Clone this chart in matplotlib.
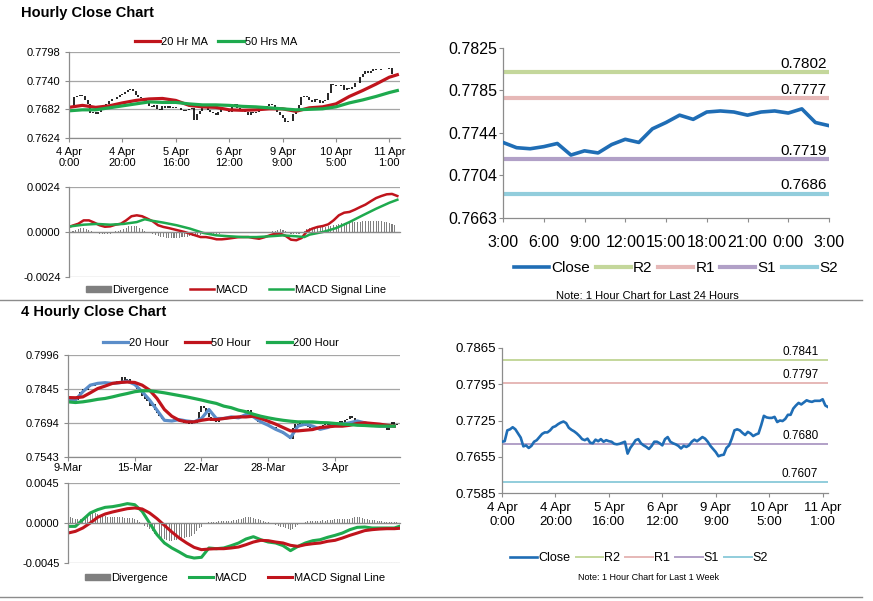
import numpy as np
import matplotlib
matplotlib.use('Agg')
import matplotlib.pyplot as plt
from matplotlib.patches import Patch
from matplotlib.lines import Line2D

plt.rcParams['font.family'] = ['Liberation Sans', 'DejaVu Sans']

W, H = 873, 601

# ---------------- data ----------------
# hourly close, 4 Apr 0:00 .. 11 Apr 2:00 (trading hours)
close_1h = [
    0.7684, 0.7685, 0.7706, 0.7708, 0.7712, 0.7708, 0.7700, 0.7692, 0.7675, 0.7677,
    0.7672, 0.7676, 0.7684, 0.7687, 0.7693, 0.7699, 0.7702, 0.7702, 0.7706, 0.7712,
    0.7714, 0.7718, 0.7721, 0.7723, 0.7720, 0.7711, 0.7707, 0.7704, 0.7700, 0.7695,
    0.7689, 0.7687, 0.7690, 0.7682, 0.7681, 0.7688, 0.7685, 0.7689, 0.7684, 0.7687,
    0.7685, 0.7684, 0.7680, 0.7679, 0.7680, 0.7682, 0.7684, 0.7661, 0.7672, 0.7679,
    0.7687, 0.7689, 0.7681, 0.7677, 0.7674, 0.7670, 0.7676, 0.7684, 0.7684, 0.7681,
    0.7677, 0.7689, 0.7693, 0.7684, 0.7681, 0.7679, 0.7676, 0.7671, 0.7676, 0.7674,
    0.7677, 0.7684, 0.7688, 0.7685, 0.7689, 0.7693, 0.7690, 0.7684, 0.7676, 0.7670,
    0.7664, 0.7656, 0.7658, 0.7659, 0.7672, 0.7677, 0.7690, 0.7706, 0.7708, 0.7706,
    0.7701, 0.7697, 0.7703, 0.7700, 0.7695, 0.7698, 0.7700, 0.7716, 0.7734, 0.7731,
    0.7730, 0.7730, 0.7732, 0.7722, 0.7725, 0.7724, 0.7728, 0.7736, 0.7736, 0.7748,
    0.7754, 0.7759, 0.7756, 0.7760, 0.7764, 0.7762, 0.7761, 0.7763, 0.7763, 0.7763,
    0.7766, 0.7754, 0.7751,
]
hr_tick_labels = ['4 Apr\n0:00', '4 Apr\n20:00', '5 Apr\n16:00', '6 Apr\n12:00',
                  '9 Apr\n9:00', '10 Apr\n5:00', '11 Apr\n1:00']

ma_1h_idx = [0, 5, 10, 15, 20, 25, 30, 35, 40, 45, 50, 55, 60, 65, 70, 75, 80,
             85, 90, 95, 100, 105, 110, 115, 120, 123]
ma20_1h = [0.7686, 0.7690, 0.7686, 0.7689, 0.7695, 0.7700, 0.7703, 0.7704, 0.7700,
           0.7690, 0.7687, 0.7686, 0.7681, 0.7680, 0.7681, 0.7683, 0.7683, 0.7678,
           0.7685, 0.7687, 0.7693, 0.7708, 0.7720, 0.7733, 0.7747, 0.7752]
ma50_1h = [0.7679, 0.7681, 0.7681, 0.7685, 0.7689, 0.7693, 0.7697, 0.7696, 0.7696,
           0.7693, 0.7691, 0.7691, 0.7690, 0.7688, 0.7687, 0.7685, 0.7683, 0.7681,
           0.7682, 0.7683, 0.7687, 0.7695, 0.7701, 0.7708, 0.7716, 0.7720]

macd_1h_idx = [0] + list(range(3, 124, 2))
macd_1h = [0.00030, 0.00044, 0.00062, 0.00062, 0.00050, 0.00036, 0.00028, 0.00030,
           0.00039, 0.00044, 0.00062, 0.00084, 0.00089, 0.00084, 0.00071, 0.00057,
           0.00036, 0.00027, 0.00021, 0.00014, 0.00007, 0.00000, -0.00009, -0.00018,
           -0.00027, -0.00027, -0.00032, -0.00039, -0.00039, -0.00036, -0.00032,
           -0.00028, -0.00027, -0.00027, -0.00032, -0.00036, -0.00028, -0.00018,
           -0.00009, -0.00009, -0.00021, -0.00041, -0.00044, -0.00032, 0.00004,
           0.00018, 0.00027, 0.00032, 0.00041, 0.00062, 0.00089, 0.00103, 0.00107,
           0.00119, 0.00133, 0.00146, 0.00164, 0.00181, 0.00192, 0.00201, 0.00203,
           0.00192]
sig_1h_idx = [0, 5, 10, 15, 20, 25, 28, 30, 35, 40, 45, 50, 55, 60, 65, 70, 75, 80,
              85, 88, 90, 95, 100, 105, 110, 115, 120, 123]
sig_1h = [0.00030, 0.00039, 0.00043, 0.00039, 0.00043, 0.00053, 0.00068, 0.00062,
          0.00050, 0.00036, 0.00018, -0.00005, -0.00018, -0.00023, -0.00027, -0.00027,
          -0.00023, -0.00018, -0.00023, -0.00027, -0.00014, 0.00000, 0.00021, 0.00053,
          0.00089, 0.00124, 0.00156, 0.00172]
div_1h = [
    0.00002, 0.00005, 0.0001, 0.00015, 0.0002, 0.0002, 0.00018, 0.00012, 0.00005, 0.0,
    -0.00005, -0.0001, -0.00012, -0.00012, -0.0001, -0.00008, -0.00003, 0.00003, 0.00008, 0.00012,
    0.00018, 0.00024, 0.0003, 0.00033, 0.00032, 0.0003, 0.00024, 0.00016, 0.00008, 0.0,
    -0.00006, -0.00012, -0.00018, -0.00022, -0.00026, -0.00028, -0.0003, -0.0003, -0.00031, -0.00031,
    -0.0003, -0.0003, -0.00028, -0.00026, -0.00024, -0.00022, -0.0002, -0.00018, -0.00016, -0.00014,
    -0.00012, -0.0001, -0.0001, -0.00009, -0.0001, -0.0001, -0.00009, -0.00007, -0.00006, -0.00005,
    -0.00004, -0.00003, -0.00002, -0.00002, -0.00001, 0.0, 0.00001, 0.00002, 0.00002, 0.00001,
    -0.00002, -0.00003, -0.00002, 0.0, 0.00001, 0.00002, 0.00003, 0.00005, 0.0001, 0.00014,
    0.00012, 0.00006, -0.00004, -0.0001, -0.00012, -0.00012, -0.00008, -0.00003, 0.00005, 0.00014,
    0.0002, 0.00024, 0.00026, 0.00027, 0.00028, 0.00028, 0.00029, 0.0003, 0.00033, 0.00036,
    0.0004, 0.00044, 0.00046, 0.00048, 0.00048, 0.0005, 0.00052, 0.00053, 0.00054, 0.00055,
    0.00057, 0.00058, 0.00059, 0.0006, 0.0006, 0.0006, 0.00059, 0.00057, 0.00055, 0.00052,
    0.00048, 0.00042, 0.00035,
]

# last 24 hours
hours_24 = ['3:00', '6:00', '9:00', '12:00', '15:00', '18:00', '21:00', '0:00', '3:00']
close_24 = [0.7735, 0.7730, 0.7729, 0.7731, 0.7734, 0.7723, 0.7727, 0.7725, 0.7733,
            0.7738, 0.7735, 0.7748, 0.7754, 0.7761, 0.7757, 0.7764, 0.7765, 0.7764,
            0.7761, 0.7764, 0.7765, 0.7763, 0.7767, 0.7754, 0.7751]
levels_24 = {'R2': 0.7802, 'R1': 0.7777, 'S1': 0.7719, 'S2': 0.7686}
levels_wk = {'R2': 0.7841, 'R1': 0.7797, 'S1': 0.7680, 'S2': 0.7607}

# 4 hourly
close_4h = [
    0.7800, 0.7795, 0.7802, 0.7798, 0.7805, 0.7830, 0.7845, 0.7840, 0.7855, 0.7862,
    0.7858, 0.7868, 0.7872, 0.7865, 0.7875, 0.7870, 0.7862, 0.7878, 0.7868, 0.7874,
    0.7880, 0.7870, 0.7900, 0.7878, 0.7890, 0.7880, 0.7872, 0.7860, 0.7845, 0.7830,
    0.7815, 0.7800, 0.7790, 0.7770, 0.7778, 0.7750, 0.7740, 0.7725, 0.7712, 0.7705,
    0.7700, 0.7708, 0.7698, 0.7710, 0.7704, 0.7712, 0.7700, 0.7695, 0.7705, 0.7690,
    0.7698, 0.7692, 0.7702, 0.7745, 0.7770, 0.7760, 0.7740, 0.7720, 0.7705, 0.7712,
    0.7700, 0.7706, 0.7715, 0.7710, 0.7722, 0.7718, 0.7726, 0.7712, 0.7720, 0.7716,
    0.7728, 0.7722, 0.7735, 0.7750, 0.7730, 0.7718, 0.7708, 0.7700, 0.7695, 0.7690,
    0.7685, 0.7680, 0.7670, 0.7675, 0.7662, 0.7658, 0.7650, 0.7645, 0.7640, 0.7632,
    0.7625, 0.7670, 0.7690, 0.7685, 0.7692, 0.7682, 0.7688, 0.7675, 0.7670, 0.7665,
    0.7672, 0.7668, 0.7678, 0.7684, 0.7690, 0.7686, 0.7696, 0.7690, 0.7698, 0.7692,
    0.7702, 0.7695, 0.7708, 0.7712, 0.7725, 0.7715, 0.7700, 0.7694, 0.7688, 0.7692,
    0.7684, 0.7690, 0.7680, 0.7686, 0.7675, 0.7688, 0.7682, 0.7678, 0.7684, 0.7665,
    0.7690, 0.7700, 0.7685, 0.7688,
]
day_labels = ['9-Mar', '15-Mar', '22-Mar', '28-Mar', '3-Apr']
ma_4h_idx = list(range(0, 133, 3))
ma20_4h = [0.7796, 0.7796, 0.7833, 0.7862, 0.7870, 0.7873, 0.7870, 0.7873, 0.7880,
           0.7865, 0.7833, 0.7796, 0.7751, 0.7706, 0.7703, 0.7709, 0.7703, 0.7699,
           0.7714, 0.7754, 0.7714, 0.7714, 0.7721, 0.7717, 0.7732, 0.7721, 0.7699,
           0.7684, 0.7666, 0.7652, 0.7629, 0.7680, 0.7689, 0.7680, 0.7666, 0.7674,
           0.7689, 0.7689, 0.7695, 0.7703, 0.7695, 0.7684, 0.7680, 0.7680, 0.7680]
ma50_4h = [0.7807, 0.7806, 0.7810, 0.7828, 0.7847, 0.7858, 0.7870, 0.7874, 0.7876,
           0.7874, 0.7862, 0.7840, 0.7803, 0.7754, 0.7724, 0.7706, 0.7699, 0.7699,
           0.7706, 0.7711, 0.7709, 0.7714, 0.7718, 0.7721, 0.7721, 0.7724, 0.7714,
           0.7702, 0.7689, 0.7674, 0.7659, 0.7659, 0.7662, 0.7665, 0.7674, 0.7677,
           0.7680, 0.7680, 0.7684, 0.7692, 0.7695, 0.7692, 0.7689, 0.7684, 0.7680]
ma200_4h = [0.7788, 0.7785, 0.7788, 0.7793, 0.7799, 0.7803, 0.7810, 0.7818, 0.7825,
            0.7833, 0.7837, 0.7837, 0.7833, 0.7828, 0.7822, 0.7816, 0.7810, 0.7803,
            0.7796, 0.7788, 0.7781, 0.7769, 0.7762, 0.7751, 0.7744, 0.7733, 0.7724,
            0.7717, 0.7711, 0.7706, 0.7702, 0.7699, 0.7699, 0.7699, 0.7696, 0.7695,
            0.7692, 0.7689, 0.7687, 0.7684, 0.7683, 0.7681, 0.7680, 0.7680, 0.7680]

macd_4h_idx = list(range(0, 133, 3)) + [134]
macd_4h = [-0.00038, -0.00038, 0.00038, 0.00113, 0.0015, 0.00176, 0.00184, 0.00199,
           0.00218, 0.00206, 0.00131, 0.0, -0.00131, -0.00225, -0.00281, -0.00326,
           -0.00375, -0.00394, -0.00386, -0.00281, -0.00289, -0.00281, -0.00255,
           -0.00225, -0.0018, -0.00154, -0.00188, -0.00214, -0.00225, -0.00255,
           -0.00311, -0.00263, -0.00225, -0.00199, -0.00188, -0.00161, -0.00139,
           -0.00113, -0.00075, -0.00049, -0.00045, -0.00056, -0.00056, -0.00056,
           -0.00056, -0.00038]
sig_4h = [-0.00113, -0.00094, -0.00056, 0.0, 0.00064, 0.00101, 0.00124, 0.00143,
          0.00161, 0.00169, 0.00158, 0.00113, 0.00049, -0.00026, -0.00101, -0.00169,
          -0.00225, -0.00274, -0.003, -0.00293, -0.00289, -0.00289, -0.00281, -0.0027,
          -0.00244, -0.00214, -0.00195, -0.00199, -0.00214, -0.00225, -0.00251,
          -0.00263, -0.00244, -0.00233, -0.00225, -0.00206, -0.00195, -0.00169,
          -0.00139, -0.00113, -0.00086, -0.00075, -0.00068, -0.00064, -0.00064,
          -0.0006]
div_4h = [
    0.0006, 0.00062, 0.00058, 0.00045, 0.0004, 0.00042, 0.0005, 0.0008, 0.0009, 0.001,
    0.0011, 0.00108, 0.001, 0.0009, 0.0008, 0.00075, 0.0007, 0.00068, 0.00065, 0.00066,
    0.0007, 0.00068, 0.00065, 0.0006, 0.0006, 0.00058, 0.00052, 0.00042, 0.0003, 0.00012,
    0.0, -0.0003, -0.0005, -0.0007, -0.0009, -0.0012, -0.0014, -0.0016, -0.0017, -0.0018,
    -0.0019, -0.002, -0.002, -0.0019, -0.0019, -0.0018, -0.0018, -0.0017, -0.0016, -0.0016,
    -0.0015, -0.0012, -0.0009, -0.0006, -0.0004, -0.0001, 0.0, 0.0001, 0.00012, 0.00015,
    0.00015, 0.00018, 0.0002, 0.0002, 0.0002, 0.00022, 0.00025, 0.0003, 0.00035, 0.0004,
    0.0005, 0.0006, 0.00068, 0.00072, 0.0007, 0.0006, 0.0005, 0.0004, 0.0003, 0.00022,
    0.00015, 0.0001, 0.0, -0.0001, -0.0002, -0.0003, -0.0004, -0.0005, -0.0006, -0.0007,
    -0.00075, -0.0007, -0.0005, -0.0002, -0.0001, 0.0, 0.00015, 0.0002, 0.00022, 0.00025,
    0.00025, 0.00028, 0.00025, 0.0003, 0.00028, 0.0003, 0.00032, 0.0003, 0.0004, 0.00042,
    0.00045, 0.00048, 0.0005, 0.00048, 0.0005, 0.0006, 0.0007, 0.00072, 0.0007, 0.0006,
    0.0005, 0.0004, 0.00035, 0.0003, 0.0003, 0.00025, 0.0002, 0.00018, 0.00015, 0.00012,
    0.0001, 0.0001, 0.0001, 0.0001,
]

# ---------------- style ----------------
RED = '#C0141C'
GREEN = '#1EAA4E'
BLUE_CLOSE = '#1F6DB5'
BLUE_MA = '#5B8DC9'
GRAY_BAR = '#7F7F7F'
AXIS = '#8C8C8C'
GRID = '#A6A6A6'
LV_COL = {'R2': '#C4D79B', 'R1': '#E6B8B7', 'S1': '#B1A0C7', 'S2': '#92CDDC'}
FS_L = 8  # left-hand panels


def frac(x0, y0, x1, y1):
    return [x0 / W, 1 - y1 / H, (x1 - x0) / W, (y1 - y0) / H]


def style(ax, yticks, fs, grid=True, pad=3):
    ax.set_ylim(yticks[0], yticks[-1])
    ax.set_yticks(yticks)
    ax.set_yticklabels(['%.4f' % v for v in yticks], fontsize=fs)
    for s in ['top', 'right']:
        ax.spines[s].set_visible(False)
    for s in ['left', 'bottom']:
        ax.spines[s].set_color(AXIS)
        ax.spines[s].set_linewidth(0.9)
    if grid:
        ax.grid(axis='y', color=GRID, lw=0.9)
        ax.set_axisbelow(True)
    ax.tick_params(axis='y', length=3, color=AXIS, pad=pad)
    ax.tick_params(axis='x', length=3, color=AXIS)


def legend(handles, labels, cx, cy, fs, **kw):
    fig.legend(handles, labels, loc='center', bbox_to_anchor=(cx / W, 1 - cy / H),
               ncol=len(handles), frameon=False, fontsize=fs, borderaxespad=0,
               borderpad=0, **kw)


fig = plt.figure(figsize=(W / 100, H / 100), dpi=100)

# ---- hourly close chart ----
idx_1h = np.arange(len(close_1h))
ax1 = fig.add_axes(frac(69, 52, 400, 138))
ax1.vlines(idx_1h[1:], close_1h[:-1], close_1h[1:], color='black', lw=1.2)
l20, = ax1.plot(ma_1h_idx, ma20_1h, color=RED, lw=2.3)
l50, = ax1.plot(ma_1h_idx, ma50_1h, color=GREEN, lw=2.3)
style(ax1, [0.7624, 0.7682, 0.7740, 0.7798], FS_L)
ax1.set_xlim(0, 124)
ax1.set_xticks(range(0, 121, 20))
ax1.set_xticklabels(hr_tick_labels, fontsize=FS_L, linespacing=1.1)
legend([l20, l50], ['20 Hr MA', '50 Hrs MA'], 216, 42, FS_L,
       handlelength=2.3, handletextpad=0.1, columnspacing=0.9)

ax2 = fig.add_axes(frac(69, 187, 400, 277))
ax2.bar(np.arange(len(div_1h)), div_1h, width=0.4, color=GRAY_BAR)
lm, = ax2.plot(macd_1h_idx, macd_1h, color=RED, lw=1.8)
ls, = ax2.plot(sig_1h_idx, sig_1h, color=GREEN, lw=1.8)
style(ax2, [-0.0024, 0.0, 0.0024], FS_L)
ax2.spines['bottom'].set_position(('data', 0))
ax2.set_xlim(-0.5, 124)
ax2.set_xticks([])
legend([Patch(color=GRAY_BAR), lm, ls], ['Divergence', 'MACD', 'MACD Signal Line'],
       236, 290, FS_L, handlelength=2.2, handleheight=0.5, handletextpad=0.1,
       columnspacing=1.9)

fig.text(21 / W, 1 - 13 / H, 'Hourly Close Chart', fontsize=10.5, fontweight='bold',
         va='center')

# ---- last 24 hours ----
ax3 = fig.add_axes(frac(503, 48, 829, 218))
h3 = [ax3.plot(np.arange(len(close_24)), close_24, color=BLUE_CLOSE, lw=2.6,
               zorder=3)[0]]
for k, v in levels_24.items():
    h3.append(ax3.axhline(v, color=LV_COL[k], lw=3))
    ax3.annotate('%.4f' % v, xy=(1, v), xycoords=('axes fraction', 'data'),
                 xytext=(-1.5, 1), textcoords='offset points', ha='right',
                 va='bottom', fontsize=11)
style(ax3, [0.7663, 0.7704, 0.7744, 0.7785, 0.7825], 11.5, grid=False, pad=1)
ax3.set_xlim(0, 24)
ax3.set_xticks(range(0, 25, 3))
ax3.set_xticklabels(hours_24, fontsize=11.5)
ax3.tick_params(axis='x', pad=9)
legend(h3, ['Close'] + list(levels_24), 676, 268, 11, handlelength=2.3,
       handletextpad=0.15, columnspacing=0.35)
fig.text(647 / W, 1 - 296 / H, 'Note: 1 Hour Chart for Last 24 Hours', fontsize=8,
         ha='center', va='center')

# ---- last week ----
ax4 = fig.add_axes(frac(502, 348, 828, 493))
h4 = [ax4.plot(idx_1h, close_1h, color=BLUE_CLOSE, lw=1.9, zorder=3)[0]]
for k, v in levels_wk.items():
    h4.append(ax4.axhline(v, color=LV_COL[k], lw=1.4))
    ax4.annotate('%.4f' % v, xy=(1, v), xycoords=('axes fraction', 'data'),
                 xytext=(-7, 1.5), textcoords='offset points', ha='right',
                 va='bottom', fontsize=8.5)
style(ax4, [0.7585, 0.7655, 0.7725, 0.7795, 0.7865], 9.5, grid=False, pad=1)
ax4.set_xlim(0, 122)
ax4.set_xticks(range(0, 121, 20))
ax4.set_xticklabels(hr_tick_labels, fontsize=9.5)
legend(h4, ['Close'] + list(levels_wk), 639, 558, 9, handlelength=2.2,
       handletextpad=0.1, columnspacing=0.4)
fig.text(648 / W, 1 - 578 / H, 'Note: 1 Hour Chart for Last 1 Week', fontsize=6.5,
         ha='center', va='center')

# ---- 4 hourly close chart ----
idx_4h = np.arange(len(close_4h))
ax5 = fig.add_axes(frac(68, 355, 400, 457))
ax5.vlines(idx_4h[1:], close_4h[:-1], close_4h[1:], color='black', lw=1.2)
m20, = ax5.plot(ma_4h_idx, ma20_4h, color=BLUE_MA, lw=2.3)
m50, = ax5.plot(ma_4h_idx, ma50_4h, color=RED, lw=2.3)
m200, = ax5.plot(ma_4h_idx, ma200_4h, color=GREEN, lw=2.3)
style(ax5, [0.7543, 0.7694, 0.7845, 0.7996], FS_L)
ax5.set_xlim(0, 134.3)
ax5.set_xticks(range(0, 109, 27))
ax5.set_xticklabels(day_labels, fontsize=FS_L)
ax5.tick_params(axis='x', pad=1.5)
legend([m20, m50, m200], ['20 Hour', '50 Hour', '200 Hour'], 221, 343, FS_L,
       handlelength=2.3, handletextpad=0.1, columnspacing=1.4)

ax6 = fig.add_axes(frac(68, 483, 400, 563))
ax6.bar(idx_4h, div_4h, width=0.4, color=GRAY_BAR)
g6, = ax6.plot(macd_4h_idx, macd_4h, color=GREEN, lw=2.2)
r6, = ax6.plot(macd_4h_idx, sig_4h, color=RED, lw=2.2)
style(ax6, [-0.0045, 0.0, 0.0045], FS_L)
ax6.spines['bottom'].set_position(('data', 0))
ax6.set_xlim(0, 134.3)
ax6.set_xticks([])
legend([Patch(color=GRAY_BAR), g6, r6], ['Divergence', 'MACD', 'MACD Signal Line'],
       235, 578, FS_L, handlelength=2.2, handleheight=0.5, handletextpad=0.1,
       columnspacing=1.9)

fig.text(21 / W, 1 - 312 / H, '4 Hourly Close Chart', fontsize=10.5, fontweight='bold',
         va='center')

# separators
for yy in (300, 597):
    fig.add_artist(Line2D([0, 862 / W], [1 - yy / H, 1 - yy / H], color='#8C8C8C',
                          lw=1.0, transform=fig.transFigure))

fig.savefig('out.png', dpi=100)
